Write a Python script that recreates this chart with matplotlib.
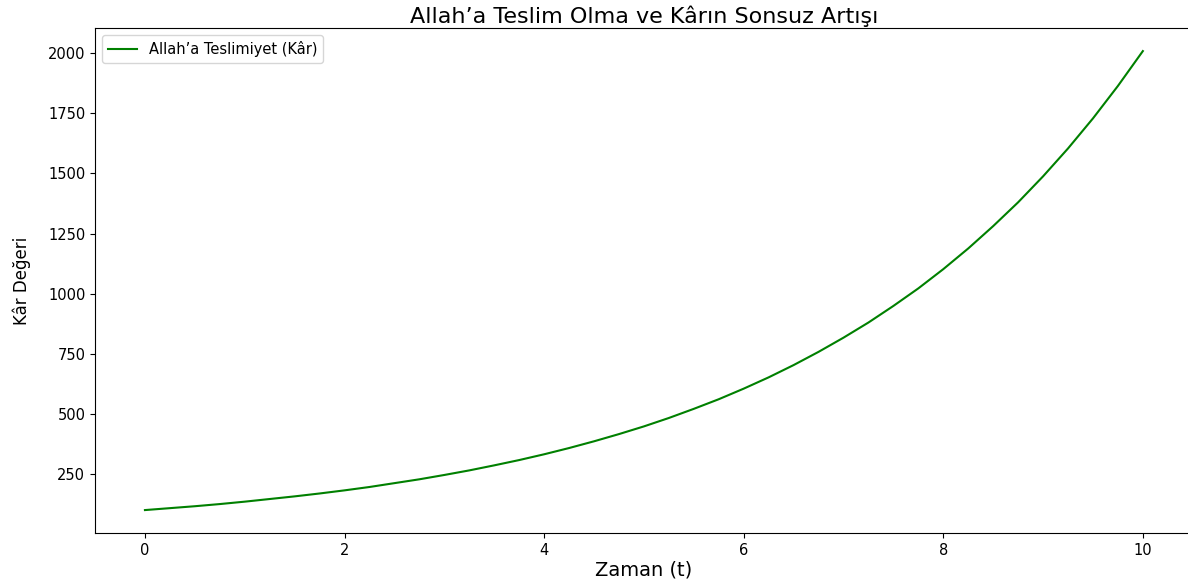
import numpy as np
import matplotlib
matplotlib.use('Agg')
import matplotlib.pyplot as plt

# values
zaman = [0.0, 0.25, 0.5, 0.75, 1.0, 1.25, 1.5, 1.75, 2.0, 2.25,
         2.5, 2.75, 3.0, 3.25, 3.5, 3.75, 4.0, 4.25, 4.5, 4.75,
         5.0, 5.25, 5.5, 5.75, 6.0, 6.25, 6.5, 6.75, 7.0, 7.25,
         7.5, 7.75, 8.0, 8.25, 8.5, 8.75, 9.0, 9.25, 9.5, 9.75, 10.0]
kar = [100, 108, 116, 125, 135, 146, 157, 169, 182, 196,
       212, 228, 246, 265, 286, 308, 332, 358, 386, 416,
       448, 483, 521, 561, 605, 652, 703, 758, 817, 880,
       949, 1022, 1102, 1188, 1281, 1380, 1488, 1604, 1729, 1864, 2009]

fig = plt.figure(figsize=(11.88, 5.86), dpi=100)
ax = fig.add_axes([0.080, 0.0904, 0.924, 0.8616])

ax.plot(zaman, kar, color='green', label='Allah’a Teslimiyet (Kâr)')
ax.set_title('Allah’a Teslim Olma ve Kârın Sonsuz Artışı', fontsize=16, pad=4)
ax.set_xlabel('Zaman (t)', fontsize=14, labelpad=2)
ax.set_ylabel('Kâr Değeri', fontsize=12, labelpad=12)
ax.tick_params(labelsize=10.5)
ax.legend(loc='upper left', fontsize=10.5)

fig.savefig('out.png', dpi=100)
